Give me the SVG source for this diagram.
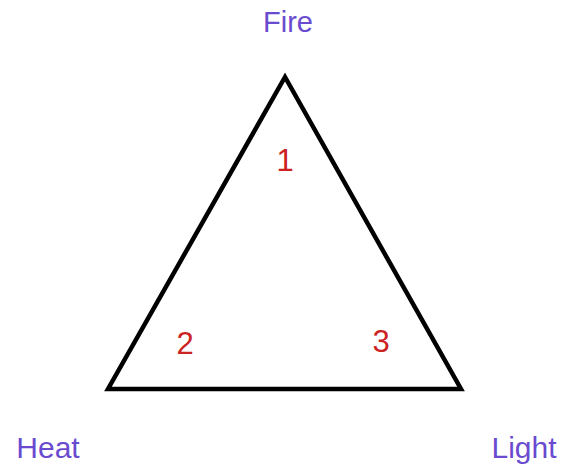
<svg xmlns="http://www.w3.org/2000/svg" width="574" height="466" viewBox="0 0 574 466">
<style>
.lbl{font-family:"Liberation Sans",Arial,sans-serif;fill:#6a4bd0;text-anchor:middle}
.num{font-family:"Liberation Sans",Arial,sans-serif;fill:#cc2222;font-size:31px;text-anchor:middle}
</style>
<rect width="574" height="466" fill="#ffffff"/>
<g id="connectors">
<polygon points="285,77 108,389 461,389" fill="none" stroke="#000" stroke-width="4.5" stroke-linejoin="miter"/>
</g>
<g id="fire"><text class="lbl" x="288" y="32" font-size="29">Fire</text></g>
<g id="heat"><text class="lbl" x="48" y="458" font-size="30">Heat</text></g>
<g id="light"><text class="lbl" x="524" y="458" font-size="30">Light</text></g>
<g id="n1"><text class="num" x="285" y="171">1</text></g>
<g id="n2"><text class="num" x="185" y="354">2</text></g>
<g id="n3"><text class="num" x="381" y="352">3</text></g>
</svg>
